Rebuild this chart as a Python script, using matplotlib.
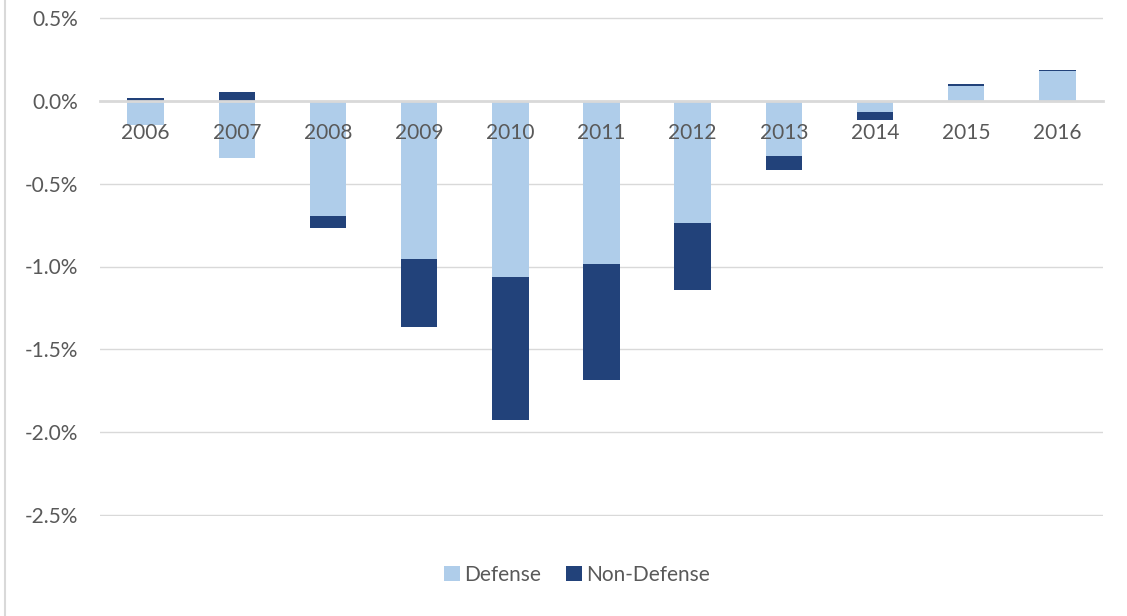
import matplotlib
matplotlib.use("Agg")
import matplotlib.pyplot as plt
from matplotlib.lines import Line2D
from matplotlib.ticker import FuncFormatter

years = ["2006", "2007", "2008", "2009", "2010", "2011", "2012", "2013", "2014", "2015", "2016"]
defense = [-0.145, -0.344, -0.695, -0.954, -1.063, -0.984, -0.737, -0.336, -0.070, 0.090, 0.183]
non_defense = [0.016, 0.056, -0.072, -0.410, -0.863, -0.700, -0.404, -0.080, -0.045, 0.012, 0.003]
yticks = [0.5, 0.0, -0.5, -1.0, -1.5, -2.0, -2.5]

c_def = "#AFCDEA"
c_non = "#22427A"
txt = "#595959"

plt.rcParams['font.family'] = ['Lato', 'DejaVu Sans']

fig = plt.figure(figsize=(11.27, 6.16), dpi=100)
ax = fig.add_axes([100/1127, 1 - 516/616, 1003/1127, 499/616])

x = list(range(len(years)))
bottoms_non = []
for d, n in zip(defense, non_defense):
    if (d >= 0) == (n >= 0):
        bottoms_non.append(d)
    else:
        bottoms_non.append(0)

ax.bar(x, defense, width=0.4, color=c_def, label="Defense", zorder=3)
ax.bar(x, non_defense, width=0.4, bottom=bottoms_non, color=c_non, label="Non-Defense", zorder=3)

ax.set_xlim(-0.5, len(years) - 0.5)
ax.set_ylim(-2.506, 0.506)
ax.set_yticks(yticks)
ax.yaxis.set_major_formatter(FuncFormatter(lambda v, p: f"{v:.1f}%"))
ax.yaxis.grid(True, color="#D9D9D9", linewidth=1.0, zorder=0)
ax.set_axisbelow(True)

for s in ["top", "right", "left"]:
    ax.spines[s].set_visible(False)
ax.spines["bottom"].set_position(("data", 0))
ax.spines["bottom"].set_color("#D9D9D9")
ax.spines["bottom"].set_linewidth(2.0)
ax.spines["bottom"].set_zorder(4)

ax.set_xticks(x)
ax.set_xticklabels([])
ax.tick_params(axis="x", length=0)
ax.tick_params(axis="y", length=0, pad=16, labelsize=15, labelcolor=txt)

for xi, yr in zip(x, years):
    ax.annotate(yr, xy=(xi, 0), xytext=(0, -23), textcoords="offset points",
                ha="center", va="center", fontsize=15, color=txt, zorder=6)

fig.legend(loc="center", bbox_to_anchor=(577/1127, 1 - 575/616), ncol=2, frameon=False,
           fontsize=15, handlelength=0.75, handleheight=0.75, handletextpad=0.2,
           columnspacing=1.2, labelcolor=txt)

fig.add_artist(Line2D([5/1127, 5/1127], [0, 1], transform=fig.transFigure, color="#D9D9D9", linewidth=1.5))

fig.savefig("out.png", dpi=100)
